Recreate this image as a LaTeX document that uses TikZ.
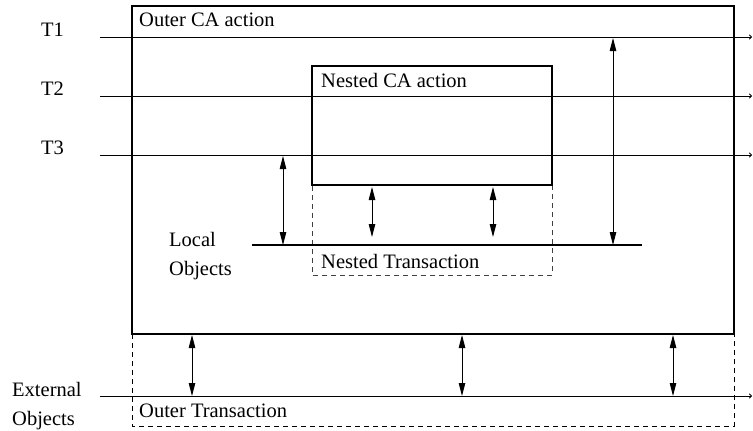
\documentclass[tikz,border=0pt]{standalone}
\usepackage{fontspec}
\setmainfont{Liberation Serif}
\usetikzlibrary{arrows.meta}
\begin{document}
\begin{tikzpicture}[x=1pt,y=-1pt,
  lbl/.style={font=\fontsize{20.5}{24}\selectfont, inner sep=0pt, anchor=base west},
  thr/.style={line width=0.9pt, -{To[length=3pt,width=5pt]}},
  dbl/.style={line width=0.9pt, {Triangle[length=13pt,width=6.5pt]}-{Triangle[length=13pt,width=6.5pt]}},
  box/.style={line width=1.3pt},
  dsh/.style={line width=1pt, dash pattern=on 5pt off 4pt}]
\useasboundingbox (0,0) rectangle (753,431);
% coordinates
\coordinate (t1s) at (100,37); \coordinate (t1e) at (752,37);
\coordinate (t2s) at (100,96); \coordinate (t2e) at (752,96);
\coordinate (t3s) at (100,155); \coordinate (t3e) at (752,155);
\coordinate (exs) at (100,396); \coordinate (exe) at (752,396);
\coordinate (los) at (252,245); \coordinate (loe) at (642,245);
% outer box
\draw[box] (132,334) -- (132,6) -- (734,6) -- (734,334) -- cycle;
\draw[dsh] (132,334) -- (132,426) -- (734,426) -- (734,334);
% nested box
\draw[box] (312,185) -- (312,66) -- (552,66) -- (552,185) -- cycle;
\draw[dsh, black!75] (312,186) -- (312,275) -- (552,275) -- (552,186);
% thread lines
\draw[thr] (t1s) -- (t1e);
\draw[thr] (t2s) -- (t2e);
\draw[thr] (t3s) -- (t3e);
\draw[thr] (exs) -- (exe);
\draw[line width=1.3pt] (los) -- (loe);
% arrows
\coordinate (a1t) at (283,156); \coordinate (a1b) at (283,245);
\coordinate (a2t) at (372,187); \coordinate (a2b) at (372,237);
\coordinate (a3t) at (493,187); \coordinate (a3b) at (493,237);
\coordinate (a4t) at (613,38); \coordinate (a4b) at (613,245);
\draw[dbl] (a1t) -- (a1b);
\draw[dbl] (a2t) -- (a2b);
\draw[dbl] (a3t) -- (a3b);
\draw[dbl] (a4t) -- (a4b);
\coordinate (b1t) at (192,335); \coordinate (b1b) at (192,396);
\coordinate (b2t) at (462,335); \coordinate (b2b) at (462,396);
\coordinate (b3t) at (673,335); \coordinate (b3b) at (673,396);
\draw[dbl] (b1t) -- (b1b);
\draw[dbl] (b2t) -- (b2b);
\draw[dbl] (b3t) -- (b3b);
% labels
\node[lbl] (T1) at (41,36) {T1};
\node[lbl] (T2) at (41,95) {T2};
\node[lbl] (T3) at (41,154) {T3};
\node[lbl] (oca) at (139,27) {Outer CA action};
\node[lbl] (nca) at (321,87) {Nested CA action};
\node[lbl] (lo1) at (169,246) {Local};
\node[lbl] (lo2) at (169,275) {Objects};
\node[lbl] (nt) at (321,268) {Nested Transaction};
\node[lbl] (ex1) at (12,396) {External};
\node[lbl] (ex2) at (12,425) {Objects};
\node[lbl] (ot) at (139,417) {Outer Transaction};
\end{tikzpicture}
\end{document}
